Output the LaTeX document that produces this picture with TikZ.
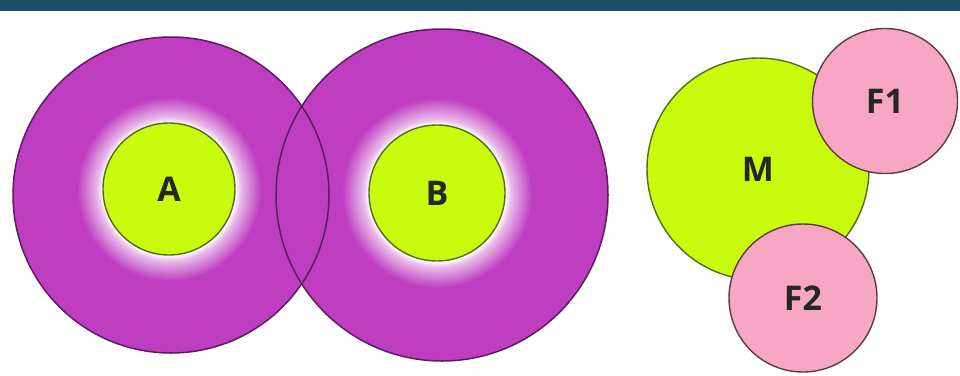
\documentclass[tikz,border=0pt]{standalone}
\usepackage{fontspec}
\setsansfont{Open Sans}
\definecolor{topbar}{HTML}{1D4F6C}
\definecolor{ringfill}{HTML}{BF3DC1}
\definecolor{ringline}{HTML}{5C1C60}
\definecolor{corefill}{HTML}{C8FB0C}
\definecolor{coreline}{HTML}{556B1F}
\definecolor{satfill}{HTML}{F7A7C3}
\definecolor{satline}{HTML}{5E3A47}
\pgfdeclareradialshading{glow}{\pgfpoint{0bp}{0bp}}{color(0bp)=(white); color(18bp)=(white); color(19.5bp)=(ringfill!35!white); color(25bp)=(ringfill)}

\begin{document}
\begin{tikzpicture}[x=1pt, y=-1pt,
    ring/.style={circle, fill=ringfill, inner sep=0pt},
    ringedge/.style={draw=ringline, line width=1.5pt},
    core/.style={circle, draw=coreline, line width=1.4pt, fill=corefill, inner sep=0pt, font=\sffamily\bfseries\fontsize{34}{40}\selectfont, text=black!85},
    satellite/.style={circle, draw=satline, line width=1.4pt, fill=satfill, inner sep=0pt, font=\sffamily\bfseries\fontsize{34}{40}\selectfont, text=black!85}
]
\useasboundingbox (0,0) rectangle (960,375);
\fill[white] (0,0) rectangle (960,375);
\fill[topbar] (0,0) rectangle (960,11);

% Outer rings
\node[ring, minimum size=316pt] (RA) at (171,195) {};
\node[ring, minimum size=332pt] (RB) at (442,195) {};

% White glow round the cores
\shade[shading=glow] (169,189) circle (92pt);
\shade[shading=glow] (437,193) circle (95pt);

% Ring outlines, both visible where they overlap
\draw[ringedge] (RA.center) circle (158pt);
\draw[ringedge] (RB.center) circle (166pt);

% Cores
\node[core, minimum size=132pt] (A) at (169,189) {A};
\node[core, minimum size=136pt] (B) at (437,193) {B};

% Right group
\node[core, minimum size=222pt] (M) at (758,169) {M};
\node[satellite, minimum size=145pt] (F1) at (885,101) {F1};
\node[satellite, minimum size=148pt] (F2) at (803,298) {F2};

\end{tikzpicture}
\end{document}
